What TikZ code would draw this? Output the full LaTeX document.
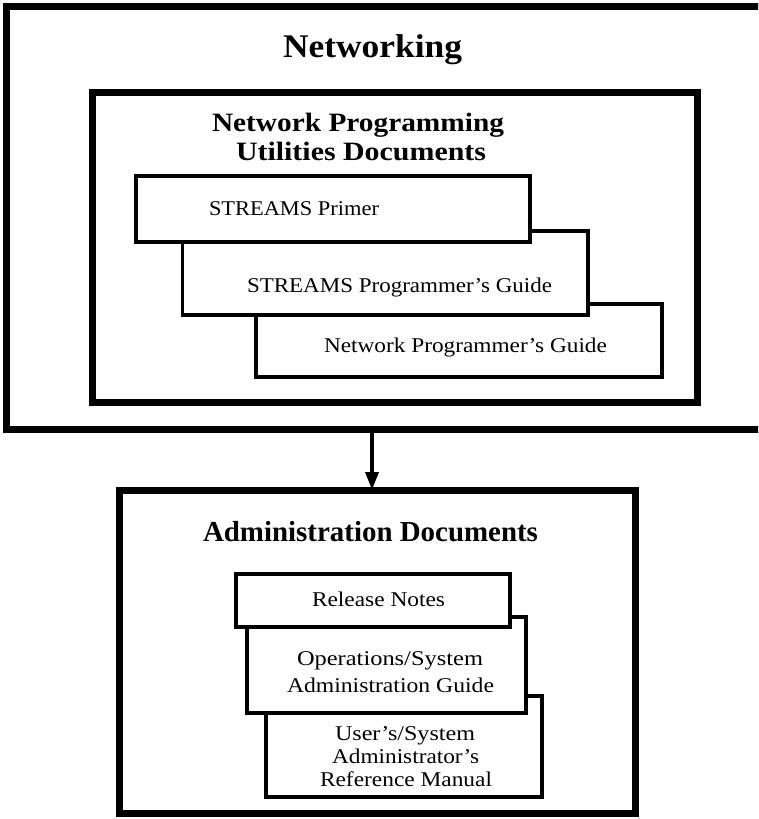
\documentclass[tikz,border=0pt]{standalone}
\usepackage{fontspec}
\setmainfont{Liberation Serif}
\usepackage{graphicx}
\usetikzlibrary{arrows.meta,calc}
\newcommand\fitw[2]{\sbox0{#2}\pgfmathsetmacro\fitratio{#1/\wd0}\scalebox{\fitratio}[1]{\usebox0}}
\tikzset{
  bigbox/.style={draw, line width=7pt, fill=white, rectangle, inner sep=0pt, outer sep=0pt, anchor=north west},
  docbox/.style={draw, line width=3.8pt, fill=white, rectangle, inner sep=0pt, outer sep=0pt, anchor=north west},
  lbl/.style={anchor=base, inner sep=0pt, outer sep=0pt},
  arr/.style={line width=3.5pt, -{Triangle[length=18pt,width=13pt]}}
}
\begin{document}
\begin{tikzpicture}[x=1pt,y=-1pt]
\useasboundingbox (0,0) rectangle (758,819);
\clip (0,0) rectangle (758,819);
% outer boxes
\node[bigbox, minimum width=783.5pt, minimum height=423pt] (net) at (6.5,6) {};
\node[bigbox, minimum width=605pt, minimum height=310pt] (npu) at (92,92) {};
\node[bigbox, minimum width=516pt, minimum height=323pt] (adm) at (119,490) {};
% upper document stack
\node[docbox, minimum width=406pt, minimum height=73pt] (b3) at (256,304) {};
\node[docbox, minimum width=405.5pt, minimum height=84pt] (b2) at (182.5,231) {};
\node[docbox, minimum width=394pt, minimum height=66pt] (b1) at (136,176) {};
% lower document stack
\node[docbox, minimum width=276pt, minimum height=101pt] (r3) at (266,696) {};
\node[docbox, minimum width=279pt, minimum height=96pt] (r2) at (247,617) {};
\node[docbox, minimum width=274pt, minimum height=53pt] (r1) at (236,574) {};
% titles
\node[lbl] (tnet) at (372.5,57) {\fontsize{33}{33}\selectfont\bfseries\fitw{179}{Networking}};
\node[lbl] (tnpa) at (358,131.5) {\fontsize{26.5}{26.5}\selectfont\bfseries\fitw{292}{Network Programming}};
\node[lbl] (tnpb) at (361,160) {\fontsize{26.5}{26.5}\selectfont\bfseries\fitw{250}{Utilities Documents}};
\node[lbl] (tadm) at (370.5,541) {\fontsize{29}{29}\selectfont\bfseries\fitw{335}{Administration Documents}};
% upper labels
\node[lbl] (l1) at (294,215.5) {\fontsize{21}{21}\selectfont\fitw{170}{STREAMS Primer}};
\node[lbl] (l2) at (399.5,292) {\fontsize{21}{21}\selectfont\fitw{305}{STREAMS Programmer’s Guide}};
\node[lbl] (l3) at (465.5,352) {\fontsize{21}{21}\selectfont\fitw{283}{Network Programmer’s Guide}};
% lower labels
\node[lbl] (m1) at (378.5,606.5) {\fontsize{21}{21}\selectfont\fitw{133}{Release Notes}};
\node[lbl] (m2a) at (390,665) {\fontsize{21}{21}\selectfont\fitw{186}{Operations/System}};
\node[lbl] (m2b) at (390.5,692) {\fontsize{21}{21}\selectfont\fitw{207}{Administration Guide}};
\node[lbl] (m3a) at (405,740) {\fontsize{21}{21}\selectfont\fitw{140}{User’s/System}};
\node[lbl] (m3b) at (405.6,763) {\fontsize{21}{21}\selectfont\fitw{147}{Administrator’s}};
\node[lbl] (m3c) at (406,786) {\fontsize{21}{21}\selectfont\fitw{172}{Reference Manual}};
% connector
\coordinate (afrom) at (372,429);
\draw[arr] (afrom) -- (afrom |- adm.north);
\end{tikzpicture}
\end{document}
